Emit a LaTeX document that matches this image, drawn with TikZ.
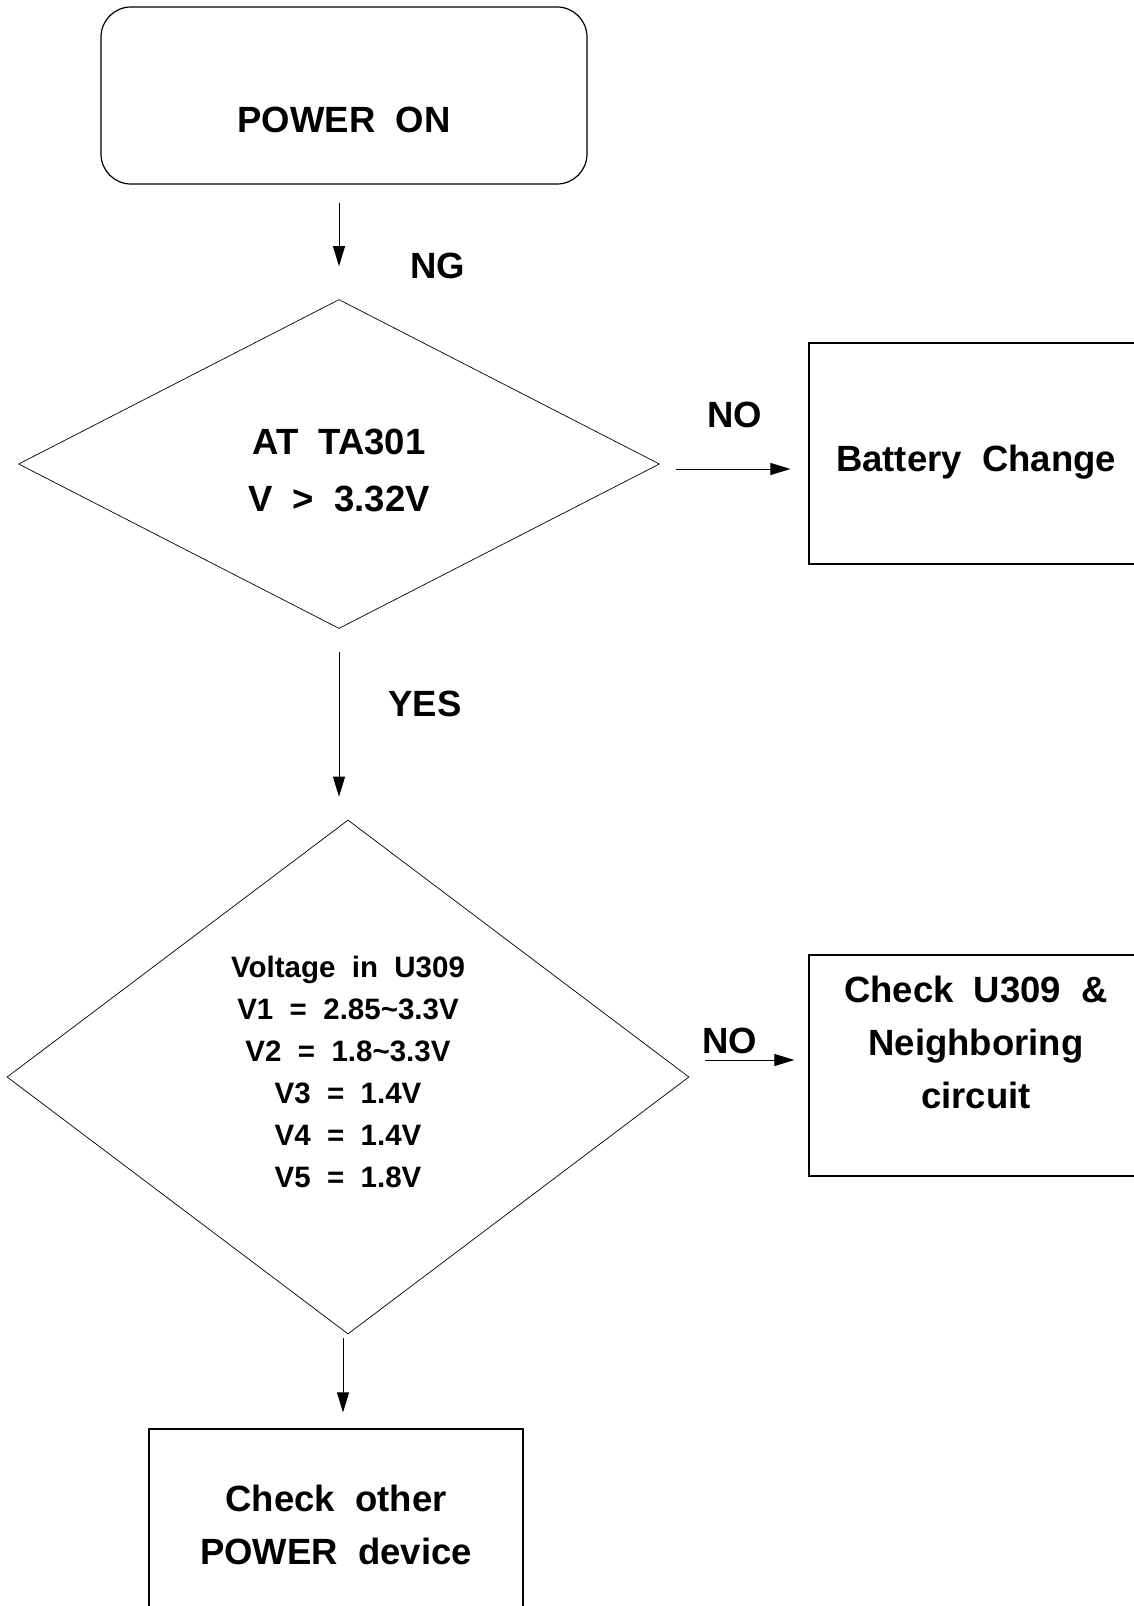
\documentclass[tikz,border=0pt]{standalone}
\usepackage{fontspec}
\setmainfont{Liberation Sans}[WordSpace=2]
\usetikzlibrary{positioning, arrows.meta, shapes.geometric}

\begin{document}
\begin{tikzpicture}[
  x=1pt, y=-1pt,
  font=\fontsize{36.5}{53}\selectfont\bfseries,
  startbox/.style={draw, line width=1.2pt, rounded corners=30pt,
                   minimum width=486pt, minimum height=177pt},
  actbox/.style={draw, line width=1.2pt, align=center,
                 minimum width=334pt, minimum height=221pt},
  decision/.style={draw, diamond, line width=0.7pt, inner sep=0pt,
                   align=center},
  lbl/.style={inner sep=0pt},
  flow/.style={-{Triangle[length=20pt, width=12pt]}, line width=1pt},
]
\useasboundingbox (0,0) rectangle (1134,1606);

% ------------------- start -------------------
\node[startbox, text height=74pt, text depth=0pt] (power) at (344,95.5)
  {POWER ON};

% ------------------- first check: battery -------------------
\node[decision, minimum width=641pt, minimum height=329pt,
      text height=94pt, text depth=0pt,
      font=\fontsize{36.5}{57}\selectfont\bfseries] (dec1) at (339,464)
  {AT TA301\\V > 3.32V};
\node[actbox, text height=35pt, text depth=0pt] (battery) at (976,453.5)
  {Battery Change};

% ------------------- second check: U309 -------------------
\node[decision, minimum width=682pt, minimum height=514pt,
      text height=221.5pt, text depth=0pt,
      font=\fontsize{29.5}{42}\selectfont\bfseries] (dec2) at (348,1077)
  {Voltage in U309\\V1 = 2.85\textasciitilde3.3V\\V2 = 1.8\textasciitilde3.3V\\
   V3 = 1.4V\\V4 = 1.4V\\V5 = 1.8V};
\node[actbox, text height=85pt, text depth=0pt] (check) at (976,1065.5)
  {Check U309 \&\\Neighboring\\circuit};

\node[actbox, minimum width=374pt, minimum height=192pt] (other) at (336,1525)
  {Check other\\POWER device};

% connectors
\draw[flow, shorten <=18pt, shorten >=33pt] (dec1.north |- power.south) -- (dec1.north);
\draw[flow, shorten <=23pt, shorten >=23pt] (dec1.south) -- (dec1.south |- dec2.north);
\draw[flow, shorten <=4pt, shorten >=16pt]
  ([xshift=-5pt]dec2.south) -- ([xshift=-5pt]dec2.south |- other.north);
\draw[flow, shorten <=16pt, shorten >=18pt]
  ([yshift=-5pt]dec1.east) -- ([yshift=-5pt]dec1.east -| battery.west);
\draw[flow, shorten <=16pt, shorten >=14pt]
  ([yshift=17pt]dec2.east) -- ([yshift=17pt]dec2.east -| check.west);

% branch labels
\node[lbl] (ng) at (438,266) {NG};
\node[lbl] (no1) at (735,415) {NO};
\node[lbl] (yes) at (425,704) {YES};
\node[lbl] (no2) at (730,1041) {NO};

\end{tikzpicture}
\end{document}
